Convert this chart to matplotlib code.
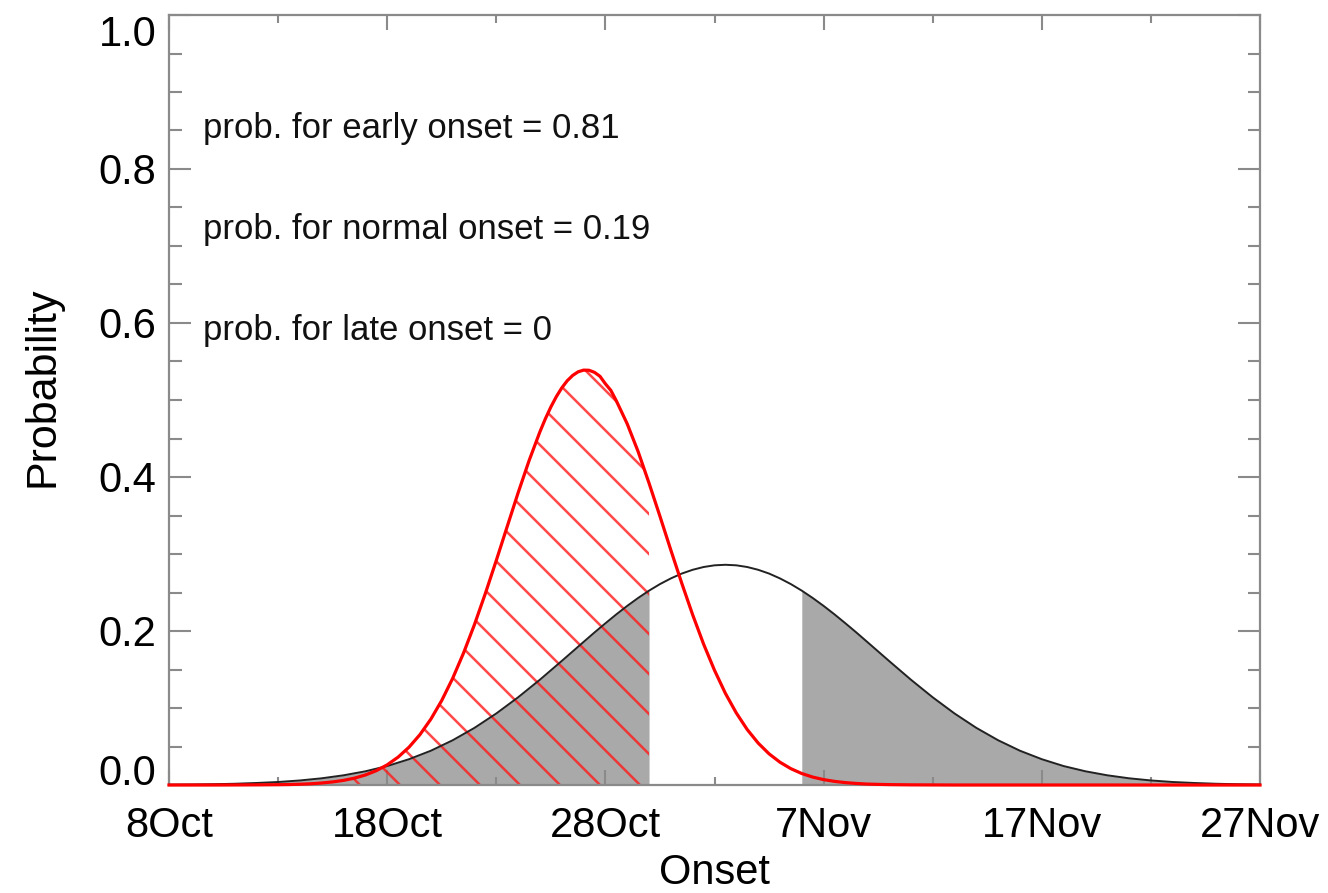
import matplotlib
matplotlib.use("Agg")
import matplotlib.pyplot as plt
from matplotlib.patches import Polygon
import numpy as np

plt.rcParams['font.family'] = ['Liberation Sans', 'DejaVu Sans']

# ---- data ----
# day offsets from 8 Oct
black_days = [0, 1, 2, 3, 4, 5, 6, 7, 8, 9, 10, 11, 12, 13, 14, 15, 16, 17, 18, 19,
              19.5, 20, 20.5, 21, 21.5, 22, 22.5, 23, 23.5, 24, 24.5, 25, 25.5, 26, 26.5,
              27, 27.5, 28, 28.5, 29, 29.5, 30, 30.5, 31, 31.5, 32,
              33, 34, 35, 36, 37, 38, 39, 40, 41, 42, 43, 44, 45, 46, 47, 48, 49, 50]
black_prob = [0.0004, 0.0006, 0.0010, 0.0016, 0.0026, 0.0039, 0.0059, 0.0087, 0.0126, 0.0178,
              0.0246, 0.0335, 0.0445, 0.0581, 0.0742, 0.0929, 0.1139, 0.1368, 0.1611, 0.1858,
              0.1981, 0.2100, 0.2216, 0.2326, 0.2429, 0.2524, 0.2609, 0.2683, 0.2746, 0.2795,
              0.2831, 0.2853, 0.2860, 0.2853, 0.2831, 0.2795, 0.2746, 0.2683, 0.2609, 0.2524,
              0.2429, 0.2326, 0.2216, 0.2100, 0.1981, 0.1858,
              0.1611, 0.1368, 0.1139, 0.0929, 0.0742, 0.0581, 0.0445,
              0.0335, 0.0246, 0.0178, 0.0126, 0.0087, 0.0059, 0.0039, 0.0026, 0.0016, 0.0010,
              0.0006]

red_days = [0, 1, 2, 3, 4,
            5, 5.5, 6, 6.5, 7, 7.5, 8, 8.5, 9, 9.5, 10, 10.5, 11, 11.5, 12, 12.5,
            13, 13.5, 14, 14.5, 15, 15.5, 16, 16.5, 17, 17.25, 17.5, 17.75, 18, 18.25,
            18.5, 18.75, 19, 19.25, 19.5, 19.75, 20, 20.25, 20.5, 21, 21.5, 22, 22.5,
            23, 23.5, 24, 24.5, 25, 25.5, 26, 26.5,
            27, 27.5, 28, 28.5, 29, 29.5, 30, 30.5, 31, 31.5, 32, 32.5, 33,
            34, 35, 36, 38, 40, 45, 50]
red_prob = [0.0, 0.0, 0.0, 0.0001, 0.0002,
            0.0004, 0.0006, 0.0010, 0.0016, 0.0026, 0.0040, 0.0060, 0.0089, 0.0130, 0.0186,
            0.0262, 0.0362, 0.0491, 0.0654, 0.0855, 0.1098, 0.1385, 0.1715, 0.2084, 0.2489,
            0.2917, 0.3357, 0.3795, 0.4211, 0.4588, 0.4757, 0.4909, 0.5043, 0.5157, 0.5250,
            0.5319, 0.5366, 0.5388, 0.5386, 0.5359, 0.5308, 0.5210, 0.5125, 0.4990, 0.4690,
            0.4330, 0.3920, 0.3490,
            0.3050, 0.2620, 0.2210, 0.1830, 0.1490, 0.1190, 0.0935, 0.0720,
            0.0545, 0.0405, 0.0296, 0.0212, 0.0149, 0.0103, 0.0070, 0.0047, 0.0031, 0.0020,
            0.0012, 0.0008, 0.0005,
            0.0002, 0.0001, 0.0, 0.0, 0.0, 0.0, 0.0]

early_end = 22    # 30 Oct
late_start = 29   # 6 Nov

xtick_pos = [0, 10, 20, 30, 40, 50]
xtick_labels = ['8Oct', '18Oct', '28Oct', '7Nov', '17Nov', '27Nov']
ytick_pos = [0.0, 0.2, 0.4, 0.6, 0.8, 1.0]
ytick_labels = ['0.0', '0.2', '0.4', '0.6', '0.8', '1.0']

texts = ['prob. for early onset = 0.81',
         'prob. for normal onset = 0.19',
         'prob. for late onset = 0']
text_y = [0.840, 0.709, 0.578]

# ---- figure ----
W, H = 1328, 893
fig = plt.figure(figsize=(W / 100, H / 100), dpi=100)
ax_l, ax_r, ax_t, ax_b = 169, 1260, 15, 785
ax = fig.add_axes([ax_l / W, 1 - ax_b / H, (ax_r - ax_l) / W, (ax_b - ax_t) / H])

bd = np.array(black_days, dtype=float)
bp = np.array(black_prob)
rd = np.array(red_days, dtype=float)
rp = np.array(red_prob)

grey = '#a9a9a9'
ax.fill_between(bd, bp, 0, where=bd <= early_end, color=grey, lw=0, zorder=1)
ax.fill_between(bd, bp, 0, where=bd >= late_start, color=grey, lw=0, zorder=1)
ax.plot(bd, bp, color='#222222', lw=1.4, zorder=3, clip_on=False)

# hatched region under red curve (early part)
m = rd <= early_end
verts = [(rd[m][0], 0.0)] + list(zip(rd[m], rp[m])) + [(rd[m][-1], 0.0)]
poly = Polygon(verts, closed=True, facecolor='none', edgecolor='none', zorder=2)
ax.add_patch(poly)
wpx, hpx = ax_r - ax_l, ax_b - ax_t
x0 = (400 - ax_l) / wpx
step = 40 / wpx
for k in range(-40, 40):
    xs = x0 + k * step
    ln, = ax.plot([xs, xs - hpx / wpx], [0, 1], transform=ax.transAxes,
                  color='#ff1a1a', lw=1.8, alpha=0.8, zorder=2.5)
    ln.set_clip_path(poly)

ax.plot(rd, rp, color='#ff0000', lw=2.3, zorder=4, clip_on=False)

ax.set_xlim(0, 50)
ax.set_ylim(0, 1)

ax.set_xticks(xtick_pos)
ax.set_xticklabels(xtick_labels)
ax.set_xticks([5, 15, 25, 35, 45], minor=True)
ax.set_yticks(ytick_pos)
ax.set_yticklabels(ytick_labels)
ax.set_yticks(np.arange(0.05, 1.0, 0.05), minor=True)

tc = '#8a8a8a'
ax.tick_params(axis='both', which='both', direction='in', top=True, right=True,
               color=tc, width=1.5)
ax.tick_params(axis='x', which='major', length=11, pad=15, labelsize=30)
ax.tick_params(axis='x', which='minor', length=6)
ax.tick_params(axis='y', which='major', length=16, pad=9, labelsize=30)
ax.tick_params(axis='y', which='minor', length=9)

ylabs = ax.get_yticklabels()
ylabs[0].set_va('baseline')
ylabs[-1].set_va('top')

for s in ax.spines.values():
    s.set_color(tc)
    s.set_linewidth(1.6)

ax.set_xlabel('Onset', fontsize=30, va='baseline')
ax.xaxis.set_label_coords(0.5, (ax_b - 884) / hpx)
ax.set_ylabel('Probability', fontsize=31)
ax.yaxis.set_label_coords((62 - ax_l) / wpx, 0.517)

for t, y in zip(texts, text_y):
    ax.text(1.56, y, t, fontsize=25, ha='left', va='baseline', color='#111111')

fig.savefig('out.png', dpi=100)
